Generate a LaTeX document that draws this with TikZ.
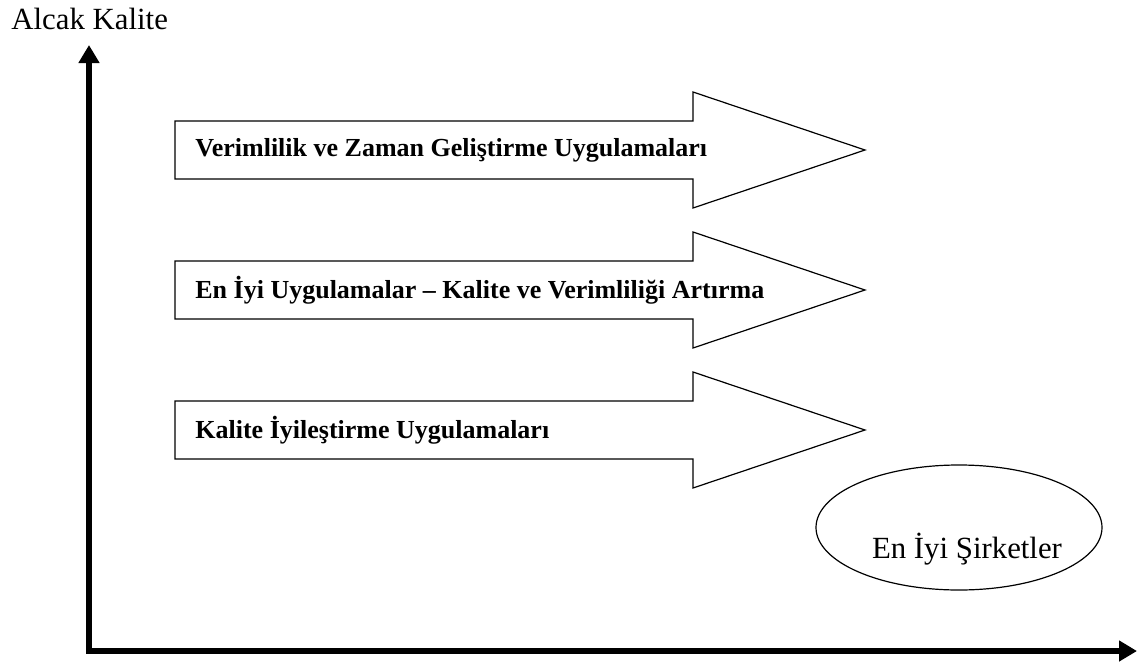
\documentclass[tikz,border=0pt]{standalone}
\usepackage{fontspec}
\setmainfont{Liberation Serif}
\usetikzlibrary{arrows.meta,shapes.geometric}
\begin{document}
\begin{tikzpicture}[x=0.5pt,y=-0.5pt,
  blockarrow/.style={draw=black, line width=0.6pt, fill=white, line join=miter},
  steplabel/.style={anchor=west, inner sep=0pt, font=\fontsize{13}{15}\selectfont\bfseries},
  plainlabel/.style={inner sep=0pt, font=\fontsize{15.4}{18}\selectfont},
  axisline/.style={line width=3.2pt, line join=miter,
    {Triangle[length=9pt,width=10pt]}-{Triangle[length=9pt,width=10pt]}},
]
\useasboundingbox (0,0) rectangle (1146,664);

% axis title
\node[plainlabel, anchor=base west] (ylabel) at (11,29) {Alcak Kalite};

% axes
\coordinate (ytip) at (89,45);
\coordinate (origin) at (89,651);
\coordinate (xtip) at (1137,651);
\draw[axisline] (ytip) -- (origin) -- (xtip);

% block arrows with their labels
\foreach \y/\name/\txt in {150/verim/{Verimlilik ve Zaman Geliştirme Uygulamaları},
                          290/eniyi/{En İyi Uygulamalar – Kalite ve Verimliliği Artırma},
                          430/kalite/{Kalite İyileştirme Uygulamaları}}{
  \draw[blockarrow] (175,\y-29) -- (693,\y-29) -- (693,\y-58) -- (865,\y)
        -- (693,\y+58) -- (693,\y+29) -- (175,\y+29) -- cycle;
  \node[steplabel] (\name) at (195,\y) {\txt};
}

% best companies
\node[draw, ellipse, line width=0.6pt, inner sep=0pt,
      minimum width=143pt, minimum height=62.5pt] (best) at (959,527.5) {};
\node[plainlabel, anchor=base] (bestlabel) at (967,558) {En İyi Şirketler};
\end{tikzpicture}
\end{document}
